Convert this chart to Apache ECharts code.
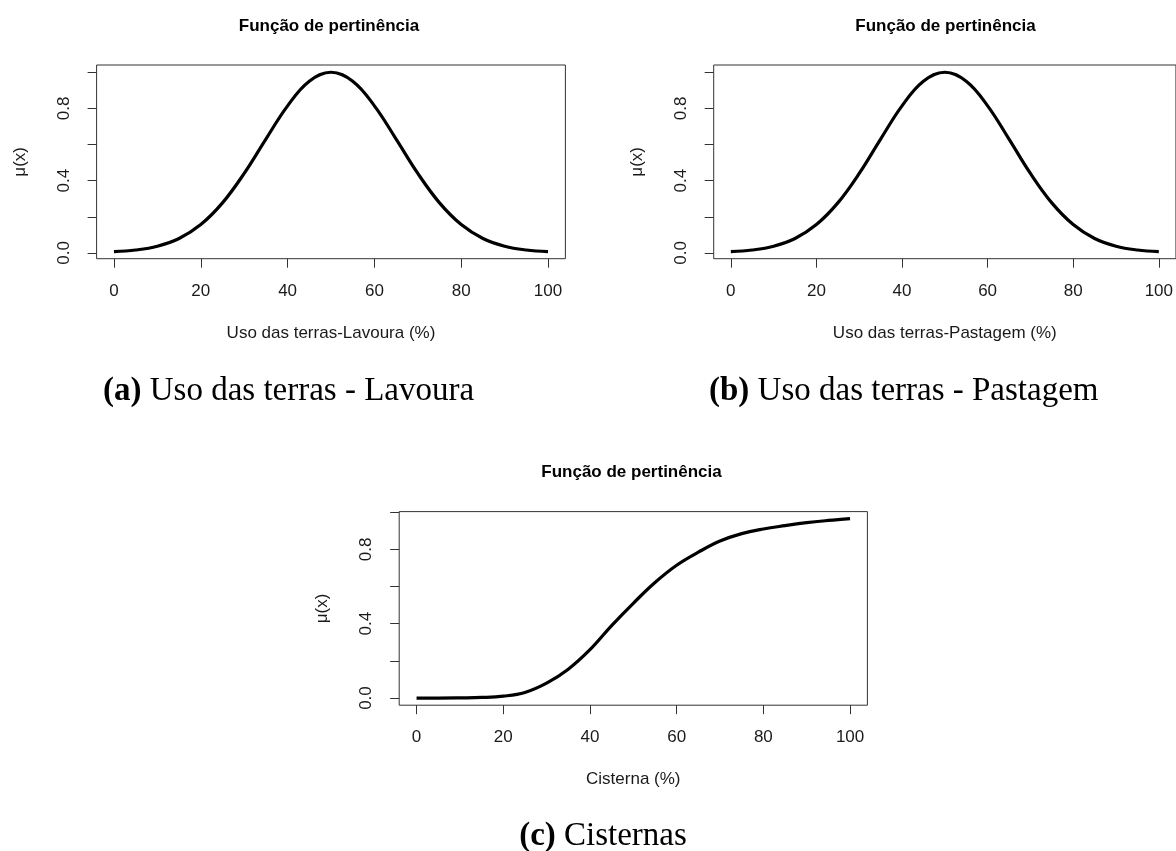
<!DOCTYPE html>
<html>
<head>
<meta charset="utf-8">
<script src="https://cdn.jsdelivr.net/npm/echarts@6/dist/echarts.min.js"></script>
<style>
html,body{margin:0;padding:0;background:#fff;}
#c{width:1176px;height:851px;}
</style>
</head>
<body>
<div id="c"></div>
<script>
// ---- data ----
const xValues = [0,5,10,15,20,25,30,35,40,45,50,55,60,65,70,75,80,85,90,95,100];
const lavouraMu = [0.007,0.016,0.037,0.080,0.157,0.277,0.440,0.630,0.814,0.950,1.000,0.950,0.814,0.630,0.440,0.277,0.157,0.080,0.037,0.016,0.007];
const pastagemMu = [0.007,0.016,0.037,0.080,0.157,0.277,0.440,0.630,0.814,0.950,1.000,0.950,0.814,0.630,0.440,0.277,0.157,0.080,0.037,0.016,0.007];
const cisternaMu = [0.000,0.000,0.001,0.003,0.010,0.030,0.080,0.155,0.260,0.390,0.510,0.622,0.715,0.785,0.845,0.885,0.910,0.928,0.944,0.956,0.966];
const xTickLabels = [0,20,40,60,80,100];
const yTickMarks = [0,0.2,0.4,0.6,0.8,1.0];
const yTickLabels = [0,0.4,0.8];
const plotTitle = 'Função de pertinência';
const yTitle = 'μ(x)';
const xTitles = ['Uso das terras-Lavoura (%)','Uso das terras-Pastagem (%)','Cisterna (%)'];
const captions = [['(a)','Uso das terras - Lavoura'],['(b)','Uso das terras - Pastagem'],['(c)','Cisternas']];

const FONT = '"Liberation Sans", Arial, sans-serif';
const SERIF = '"Liberation Serif", "Times New Roman", serif';
const ink = '#1a1a1a';

const grids = [
  {left:96.6, top:65, width:468.8, height:193.7},
  {left:713.7, top:65, width:468.8, height:193.7},
  {left:399.2, top:511.6, width:468.2, height:193.6}
];
const yRanges = [[-0.032,1.04],[-0.032,1.04],[-0.0386,1.0036]];
const seriesData = [lavouraMu, pastagemMu, cisternaMu];
const titlePos = [[329,26],[945.5,26],[631.5,472]];
const captionPos = [[103,391,'left'],[709,391,'left'],[603,836,'center']];

const chart = echarts.init(document.getElementById('c'), null, {renderer:'canvas'});

const option = {
  backgroundColor:'#fff',
  animation:false,
  grid: grids.map(g => Object.assign({show:true, borderColor:'#333', borderWidth:1, backgroundColor:'transparent', containLabel:false}, g)),
  xAxis: grids.map((g,i) => ({
    type:'value', gridIndex:i, min:-4, max:104,
    name: xTitles[i], nameLocation:'middle', nameGap:66,
    nameTextStyle:{fontFamily:FONT, fontSize:17, color:ink},
    axisLine:{show:false, onZero:false},
    axisTick:{show:true, length:9, customValues:xTickLabels, lineStyle:{color:'#333'}},
    axisLabel:{customValues:xTickLabels, fontFamily:FONT, fontSize:17, color:ink, margin:24},
    splitLine:{show:false}
  })),
  yAxis: grids.map((g,i) => ({
    type:'value', gridIndex:i, min:yRanges[i][0], max:yRanges[i][1],
    name: yTitle, nameLocation:'middle', nameGap:68, nameRotate:90,
    nameTextStyle:{fontFamily:FONT, fontSize:17, color:ink},
    axisLine:{show:false, onZero:false},
    axisTick:{show:true, length:9, customValues:yTickMarks, lineStyle:{color:'#333'}},
    axisLabel:{customValues:yTickLabels, rotate:90, fontFamily:FONT, fontSize:17, color:ink, margin:24,
      formatter: v => v.toFixed(1)},
    splitLine:{show:false}
  })),
  series: seriesData.map((arr,i) => ({
    type:'line', xAxisIndex:i, yAxisIndex:i, smooth:0.4, symbol:'none',
    lineStyle:{color:'#000', width:3.2},
    data: xValues.map((x,k) => [x, arr[k]])
  })),
  graphic: titlePos.map(p => ({type:'text', x:p[0], y:p[1],
      style:{text:plotTitle, font:'bold 17px '+FONT, fill:'#000', textAlign:'center', textVerticalAlign:'middle'}}))
    .concat(captions.map((c,i) => ({type:'text', x:captionPos[i][0], y:captionPos[i][1],
      style:{text:'{b|'+c[0]+'} '+c[1], textAlign:captionPos[i][2], textVerticalAlign:'middle', fill:'#000',
        font:'33px '+SERIF, rich:{b:{fontWeight:'bold', fontFamily:SERIF, fontSize:33}}}})))
};
chart.setOption(option);
</script>
</body>
</html>
